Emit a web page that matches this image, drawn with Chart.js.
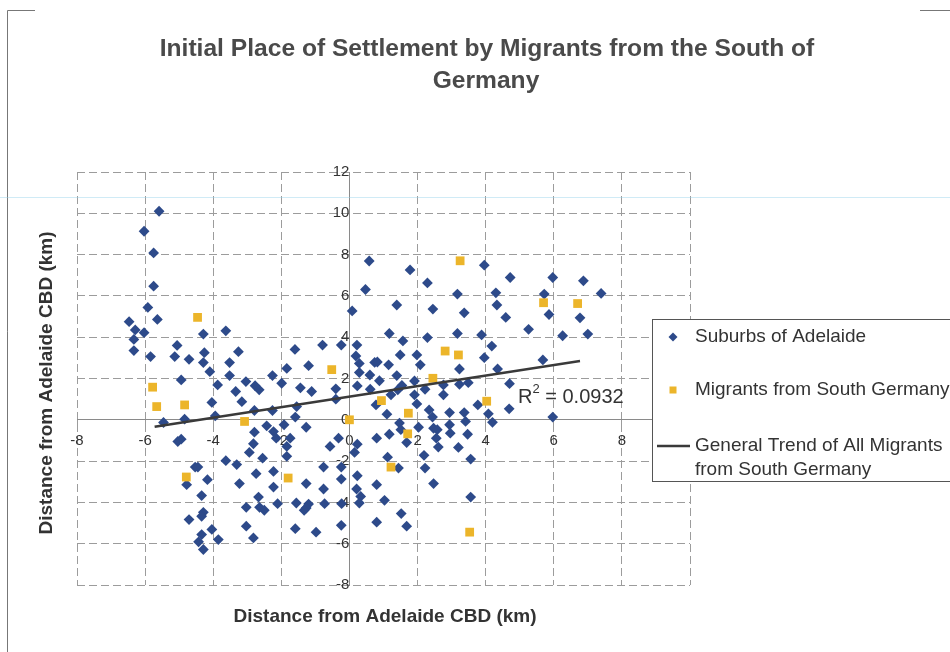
<!DOCTYPE html>
<html>
<head>
<meta charset="utf-8">
<script src="https://cdn.jsdelivr.net/npm/chart.js@4"></script>
<style>
  html, body { margin: 0; padding: 0; background: #ffffff; }
  #wrap { width: 950px; height: 652px; }
</style>
</head>
<body>
<div id="wrap"><canvas id="scatterChart" width="950" height="652"></canvas></div>
<script>
// tick values of both axes
const xTicks = [-8, -6, -4, -2, 0, 2, 4, 6, 8, 10];
const yTicks = [-8, -6, -4, -2, 0, 2, 4, 6, 8, 10, 12];

// Suburbs of Adelaide [x km, y km]
const suburbs = [
    [-5.59, 10.10], [-6.03, 9.13], [-5.75, 8.08], [-5.75, 6.47], [-5.92, 5.44], [-5.64, 4.86],
    [-6.47, 4.75], [-6.29, 4.35], [-6.03, 4.22], [-6.33, 3.89], [-6.33, 3.35], [-5.84, 3.06],
    [-5.06, 3.60], [-5.13, 3.06], [-4.71, 2.93], [-4.29, 4.15], [-4.26, 3.25], [-4.29, 2.77],
    [-4.10, 2.33], [-3.63, 4.31], [-3.26, 3.30], [-3.52, 2.77], [-3.52, 2.14], [-4.94, 1.93],
    [-3.87, 1.69], [-3.04, 1.85], [-2.77, 1.65], [-2.65, 1.45], [-3.34, 1.37], [-2.26, 2.14],
    [-1.99, 1.77], [-1.84, 2.49], [-1.60, 3.41], [-1.20, 2.62], [-0.79, 3.62], [-0.24, 3.62],
    [-1.44, 1.55], [-1.11, 1.37], [-0.40, 1.50], [-0.40, 1.00],
    [0.08, 5.27], [0.47, 6.31], [0.58, 7.69], [0.22, 3.62], [0.19, 3.09], [0.29, 2.73],
    [0.29, 2.29], [0.60, 2.17], [0.74, 2.78], [0.82, 2.80], [0.88, 1.89], [1.15, 2.66],
    [1.17, 4.18], [1.39, 5.56], [1.39, 2.14], [1.49, 3.14], [1.57, 3.82], [1.54, 1.66],
    [1.78, 7.26], [1.98, 3.14], [2.08, 2.66], [1.91, 1.88], [2.29, 6.63], [2.45, 5.36],
    [2.29, 3.98], [2.76, 1.69], [3.96, 7.49], [4.72, 6.89], [5.97, 6.89], [6.87, 6.73],
    [7.39, 6.12], [3.17, 6.09], [4.30, 6.15], [5.72, 6.09], [4.33, 5.56], [3.37, 5.18],
    [4.59, 4.96], [5.86, 5.10], [6.77, 4.94], [3.17, 4.18], [3.88, 4.11], [5.26, 4.38],
    [6.26, 4.07], [7.00, 4.15], [4.18, 3.57], [3.96, 3.01], [5.68, 2.90], [3.23, 2.46],
    [4.35, 2.46], [3.23, 1.72], [3.49, 1.80], [4.70, 1.75], [0.23, 1.64], [0.61, 1.48],
    [1.22, 1.21], [1.42, 1.45], [2.22, 1.48], [1.91, 1.21], [2.76, 1.21],
    [-4.04, 0.84], [-3.16, 0.88], [-3.94, 0.19], [-4.84, 0.03], [-5.46, -0.13], [-2.79, 0.45],
    [-2.26, 0.45], [-2.43, -0.29], [-2.23, -0.57], [-2.15, -0.89], [-2.79, -0.60], [-2.82, -1.16],
    [-1.92, -0.24], [-1.84, -1.29], [-1.74, -0.89], [-5.04, -1.05], [-4.94, -0.94], [-1.55, 0.64],
    [-1.59, 0.13], [-1.27, -0.36], [-0.32, -0.89], [-0.57, -1.29], [0.23, -1.18], [1.98, 0.77],
    [0.78, 0.72], [1.10, 0.27], [1.47, -0.16], [1.51, -0.48], [1.17, -0.70], [0.80, -0.89],
    [2.03, -0.36], [2.34, 0.48], [2.44, 0.13], [2.47, -0.41], [2.58, -0.48], [2.55, -0.89],
    [2.61, -1.32], [2.94, 0.35], [2.94, -0.24], [2.96, -0.65], [1.68, -1.10], [3.77, 0.72],
    [4.08, 0.29], [4.20, -0.12], [4.69, 0.53], [3.37, 0.35], [3.41, -0.08], [3.47, -0.70],
    [3.20, -1.34], [5.97, 0.13],
    [-2.94, -1.58], [-2.55, -1.86], [-1.84, -1.77], [-3.63, -1.98], [-3.31, -2.17], [-4.53, -2.29],
    [-4.45, -2.29], [-4.78, -3.14], [-4.17, -2.90], [-3.23, -3.09], [-2.74, -2.61], [-2.23, -2.50],
    [-2.23, -3.26], [-4.34, -3.67], [-2.67, -3.74], [-2.11, -4.06], [-3.03, -4.24], [-2.64, -4.24],
    [-2.50, -4.38], [-4.29, -4.48], [-4.34, -4.67], [-4.71, -4.83], [-4.04, -5.31], [-3.03, -5.15],
    [-4.34, -5.56], [-3.85, -5.80], [-2.82, -5.72], [-4.43, -5.91], [-4.29, -6.28], [-1.27, -3.09],
    [-0.76, -2.29], [-0.24, -2.29], [-0.24, -2.87], [-0.76, -3.35], [0.23, -2.71], [0.21, -3.35],
    [0.33, -3.71], [0.29, -4.03], [0.80, -3.14], [1.03, -3.90], [-1.56, -4.03], [-1.20, -4.08],
    [-1.27, -4.27], [-1.33, -4.38], [-0.73, -4.06], [-0.23, -4.06], [-1.59, -5.27], [-0.98, -5.44],
    [-0.24, -5.11], [0.80, -4.96], [1.52, -4.54], [1.68, -5.15], [0.15, -1.58], [1.12, -1.81],
    [1.44, -2.34], [2.19, -1.72], [2.22, -2.34], [2.47, -3.09], [3.56, -1.90], [3.56, -3.74]
];

// Migrants from South Germany [x km, y km]
const migrants = [
    [-5.78, 1.58], [-5.66, 0.64], [-4.84, 0.72], [-4.46, 4.96], [-3.08, -0.08], [-4.79, -2.77],
    [-1.80, -2.82], [-0.52, 2.43], [0, 0], [0.94, 0.93], [1.73, 0.32], [1.71, -0.68],
    [1.22, -2.29], [2.45, 2.01], [2.81, 3.33], [3.20, 3.14], [3.25, 7.70], [5.70, 5.67],
    [6.70, 5.63], [4.03, 0.90], [3.53, -5.44]
];

// linear trend line end points
const trendX = [-5.72, 6.77];
const trendY = [-0.34, 2.85];
const rSquared = '0.0932';

const blue = '#2d4a8a';
const yellow = '#ecb52a';
const trendColor = '#3a3a3a';
const textColor = '#333333';

function toPoints(pairs) {
    return pairs.map(p => ({ x: p[0], y: p[1] }));
}

// draws the title, axis titles, R² label and legend box
const decorations = {
    id: 'decorations',
    afterDraw(chart) {
        const c = chart.ctx;
        c.save();

        // scan frame and the faint scanner streak
        c.strokeStyle = '#777';
        c.lineWidth = 1;
        c.beginPath();
        c.moveTo(7.5, 652);
        c.lineTo(7.5, 10.5);
        c.lineTo(35, 10.5);
        c.moveTo(920, 10.5);
        c.lineTo(950, 10.5);
        c.stroke();
        c.strokeStyle = 'rgba(150, 210, 235, 0.45)';
        c.beginPath();
        c.moveTo(0, 197.5);
        c.lineTo(950, 197.5);
        c.stroke();

        c.fillStyle = '#4a4a4a';
        c.textAlign = 'center';
        c.textBaseline = 'middle';
        c.font = 'bold 24.6px "Liberation Sans", Arial, sans-serif';
        c.fillText('Initial Place of Settlement by Migrants from the South of', 487, 49);
        c.fillText('Germany', 486, 81);

        c.fillStyle = textColor;
        c.font = 'bold 19px "Liberation Sans", Arial, sans-serif';
        c.fillText('Distance from Adelaide CBD (km)', 385, 617);
        c.save();
        c.translate(47, 383);
        c.rotate(-Math.PI / 2);
        c.fillText('Distance from Adelaide CBD (km)', 0, 0);
        c.restore();

        // R squared
        c.textAlign = 'left';
        c.font = '20px "Liberation Sans", Arial, sans-serif';
        c.fillText('R', 518, 397);
        const rw = c.measureText('R').width;
        c.font = '13px "Liberation Sans", Arial, sans-serif';
        c.fillText('2', 518 + rw, 389);
        const sw = c.measureText('2').width;
        c.font = '20px "Liberation Sans", Arial, sans-serif';
        c.fillText(' = ' + rSquared, 518 + rw + sw, 397);

        // legend
        c.fillStyle = '#ffffff';
        c.fillRect(652.5, 319.5, 310, 162);
        c.strokeStyle = '#555';
        c.lineWidth = 1;
        c.strokeRect(652.5, 319.5, 310, 162);

        c.fillStyle = blue;
        c.beginPath();
        c.moveTo(673, 332.5);
        c.lineTo(677.5, 337);
        c.lineTo(673, 341.5);
        c.lineTo(668.5, 337);
        c.closePath();
        c.fill();

        c.fillStyle = yellow;
        c.fillRect(669.5, 386.5, 7, 7);

        c.strokeStyle = trendColor;
        c.lineWidth = 2.5;
        c.beginPath();
        c.moveTo(657, 446);
        c.lineTo(690, 446);
        c.stroke();

        c.fillStyle = textColor;
        c.font = '19px "Liberation Sans", Arial, sans-serif';
        c.textBaseline = 'middle';
        c.fillText('Suburbs of Adelaide', 695, 337);
        c.fillText('Migrants from South Germany', 695, 390);
        c.fillText('General Trend of All Migrants', 695, 446);
        c.fillText('from South Germany', 695, 470);

        c.restore();
    }
};

const ctx = document.getElementById('scatterChart').getContext('2d');
const scatterChart = new Chart(ctx, {
    type: 'scatter',
    data: {
        datasets: [{
            label: 'General Trend of All Migrants from South Germany',
            data: trendX.map((x, i) => ({ x: x, y: trendY[i] })),
            showLine: true,
            borderColor: trendColor,
            borderWidth: 2.5,
            pointRadius: 0,
            order: 0
        }, {
            label: 'Migrants from South Germany',
            data: toPoints(migrants),
            pointStyle: 'rect',
            pointRadius: 6.2,
            backgroundColor: yellow,
            borderColor: yellow,
            borderWidth: 0,
            order: 1
        }, {
            label: 'Suburbs of Adelaide',
            data: toPoints(suburbs),
            pointStyle: 'rectRot',
            pointRadius: 5.4,
            backgroundColor: blue,
            borderColor: blue,
            borderWidth: 0,
            order: 2
        }]
    },
    options: {
        responsive: false,
        animation: false,
        layout: { padding: { left: 77, right: 260, top: 172, bottom: 67 } },
        plugins: {
            legend: { display: false },
            tooltip: { enabled: false },
            title: { display: false }
        },
        scales: {
            x: {
                type: 'linear',
                min: -8,
                max: 10,
                position: { y: 0 },
                afterBuildTicks: scale => { scale.ticks = xTicks.map(v => ({ value: v })); },
                ticks: {
                    color: textColor,
                    font: { family: 'Liberation Sans', size: 15 },
                    padding: 7,
                    maxRotation: 0,
                    autoSkip: false
                },
                grid: { color: '#9c9c9c', lineWidth: 1, tickLength: 5 },
                border: { color: '#8a8a8a', width: 1, dash: [8, 4] }
            },
            y: {
                type: 'linear',
                min: -8,
                max: 12,
                position: { x: 0 },
                afterBuildTicks: scale => { scale.ticks = yTicks.map(v => ({ value: v })); },
                ticks: {
                    color: textColor,
                    font: { family: 'Liberation Sans', size: 15 },
                    padding: 4,
                    autoSkip: false
                },
                grid: { color: '#9c9c9c', lineWidth: 1, tickLength: 5 },
                border: { color: '#8a8a8a', width: 1, dash: [8, 4] }
            }
        }
    },
    plugins: [decorations]
});
</script>
</body>
</html>
